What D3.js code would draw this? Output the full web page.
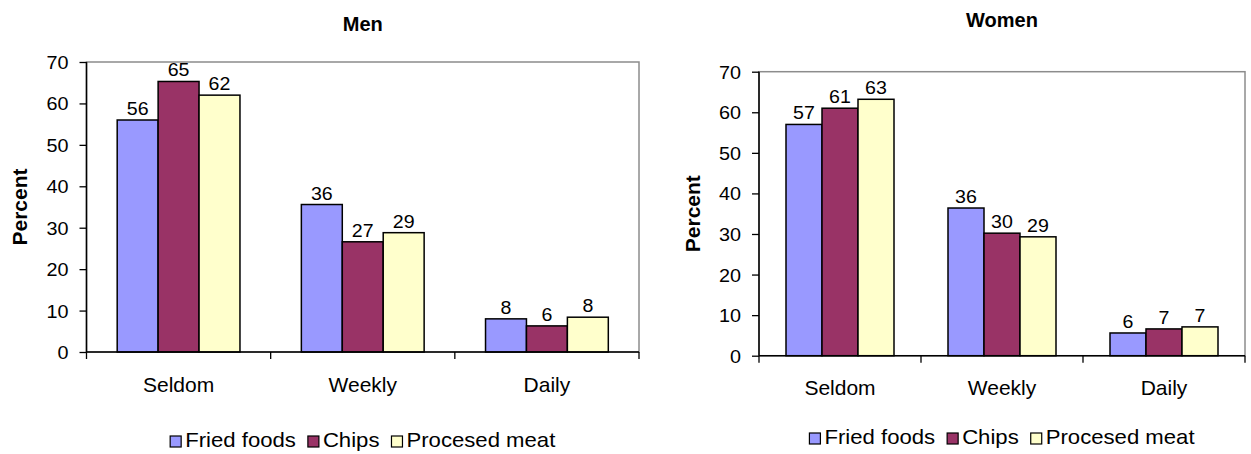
<!DOCTYPE html>
<html><head><meta charset="utf-8">
<script src="https://cdn.jsdelivr.net/npm/d3@7"></script>
<style>
body{margin:0;background:#fff}
svg{display:block}
text{font-family:"Liberation Sans",Arial,Helvetica,sans-serif;fill:#000}
</style>
</head><body>
<svg id="c" width="1251" height="454"></svg>
<script>
// ---- data ----
const categories = ["Seldom", "Weekly", "Daily"];
const seriesNames = ["Fried foods", "Chips", "Procesed meat"];
const menFried  = [56, 35.6, 8.0];
const menChips  = [65.3, 26.6, 6.3];
const menMeat   = [62, 28.8, 8.4];
const womenFried = [57, 36.4, 5.6];
const womenChips = [61, 30.2, 6.6];
const womenMeat  = [63.2, 29.3, 7.1];
const yTicks = [0, 10, 20, 30, 40, 50, 60, 70];
const panelTitles = ["Men", "Women"];
const yTitle = "Percent";

// ---- style ----
const colors = ["#9999FF", "#993366", "#FFFFCC"];
const panels = [
  {title: panelTitles[0], series: [menFried, menChips, menMeat],
   left: 86.5, right: 639, top: 62, bottom: 352,
   titleY: 31, yTitleX: 27, catY: 392, legendY: 447},
  {title: panelTitles[1], series: [womenFried, womenChips, womenMeat],
   left: 759, right: 1245, top: 71.7, bottom: 355.7,
   titleY: 27, yTitleX: 700, catY: 395, legendY: 444}
];

const svg = d3.select("#c");
const fmt = d3.format(".0f");

function stretchedText(g, x, y, str, size, sx, anchor, weight) {
  return g.append("text")
    .attr("transform", `translate(${x},${y}) scale(${sx},1)`)
    .attr("text-anchor", anchor)
    .attr("font-size", size)
    .attr("font-weight", weight || "normal")
    .text(str);
}

panels.forEach(p => {
  const g = svg.append("g");
  const x0 = d3.scaleBand().domain(categories).range([p.left, p.right]).paddingInner(0).paddingOuter(0);
  const x1 = d3.scaleBand().domain(seriesNames).range([0, x0.bandwidth()]).paddingInner(0).paddingOuter(0.75);
  const y = d3.scaleLinear().domain([0, 70]).range([p.bottom, p.top]);

  // plot area border (gray)
  g.append("rect")
    .attr("x", p.left).attr("y", p.top)
    .attr("width", p.right - p.left).attr("height", p.bottom - p.top)
    .attr("fill", "none").attr("stroke", "#8c8c8c").attr("stroke-width", 1.5);

  // bars
  seriesNames.forEach((s, si) => {
    const vals = p.series[si];
    g.selectAll(null).data(categories).enter().append("rect")
      .attr("x", c => x0(c) + x1(s))
      .attr("y", (c, i) => y(vals[i]))
      .attr("width", x1.bandwidth())
      .attr("height", (c, i) => y(0) - y(vals[i]))
      .attr("fill", colors[si])
      .attr("stroke", "#000").attr("stroke-width", 1.5);
    // value labels
    categories.forEach((c, i) => {
      stretchedText(g, x0(c) + x1(s) + x1.bandwidth() / 2, y(vals[i]) - 5,
        fmt(vals[i]), 17.5, 1.12, "middle");
    });
  });

  // y axis
  const ya = g.append("g").attr("transform", `translate(${p.left},0)`)
    .call(d3.axisLeft(y).tickValues(yTicks).tickSize(7).tickPadding(11).tickFormat(d3.format("d")));
  ya.select(".domain").attr("stroke", "#000").attr("stroke-width", 1.5).attr("d", `M0,${p.bottom}V${p.top}`);
  ya.selectAll(".tick line").attr("stroke", "#000").attr("stroke-width", 1.3);
  ya.selectAll(".tick text").each(function () {
    const t = d3.select(this);
    const xx = +t.attr("x");
    t.attr("x", null).attr("dy", null)
     .attr("transform", `translate(${xx},6.5) scale(1.1,1)`)
     .attr("font-size", 18).attr("font-family", null).attr("fill", "#000");
  });
  ya.attr("font-family", null).attr("font-size", null);

  // x axis
  const boundaries = categories.map(c => x0(c)).concat([p.right]);
  g.append("line").attr("x1", p.left).attr("x2", p.right)
    .attr("y1", p.bottom).attr("y2", p.bottom)
    .attr("stroke", "#000").attr("stroke-width", 1.5);
  g.selectAll(null).data(boundaries).enter().append("line")
    .attr("x1", d => d).attr("x2", d => d)
    .attr("y1", p.bottom).attr("y2", p.bottom + 7)
    .attr("stroke", "#000").attr("stroke-width", 1.3);
  g.selectAll(null).data(categories).enter().append("text")
    .attr("x", c => x0(c) + x0.bandwidth() / 2).attr("y", p.catY)
    .attr("text-anchor", "middle").attr("font-size", 21)
    .text(c => c);

  // titles
  const cx = (p.left + p.right) / 2;
  g.append("text").attr("x", cx).attr("y", p.titleY)
    .attr("text-anchor", "middle").attr("font-size", 20).attr("font-weight", "bold")
    .text(p.title);
  g.append("text")
    .attr("transform", `translate(${p.yTitleX},${(p.top + p.bottom) / 2}) rotate(-90)`)
    .attr("text-anchor", "middle").attr("font-size", 21).attr("font-weight", "bold")
    .text(yTitle);

  // legend
  const lg = g.append("g");
  let cursor = 0;
  const sw = 11, sx = 1.08;
  seriesNames.forEach((s, si) => {
    lg.append("rect").attr("x", cursor).attr("y", -11).attr("width", sw).attr("height", sw)
      .attr("fill", colors[si]).attr("stroke", "#000").attr("stroke-width", 1.2);
    const t = stretchedText(lg, cursor + 15, 0, s, 20.5, sx, "start");
    const w = t.node().getComputedTextLength() * sx;
    cursor += 15 + w + (si < seriesNames.length - 1 ? 12 : 0);
  });
  lg.attr("transform", `translate(${cx - cursor / 2},${p.legendY})`);
});
</script>
</body></html>
